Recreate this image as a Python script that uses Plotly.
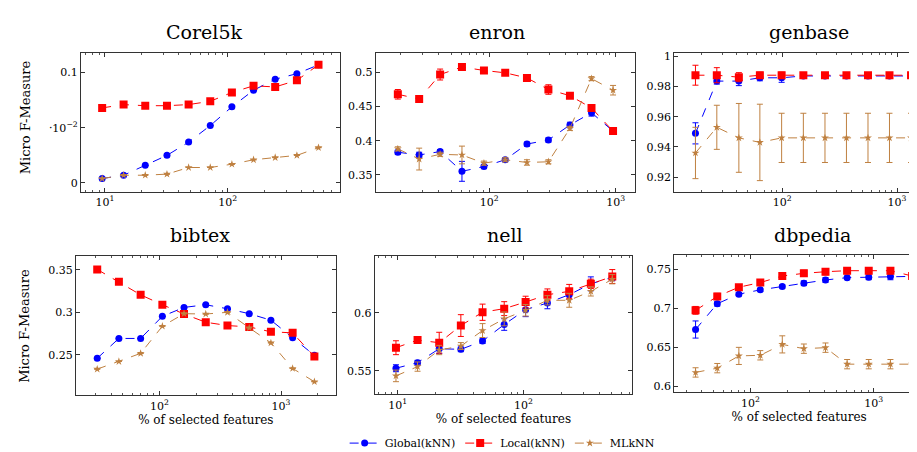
import math
import plotly.graph_objects as go

# dados (valores aproximados)
series_names = ["Global(kNN)", "Local(kNN)", "MLkNN"]
titles = ["Corel5k", "enron", "genbase", "bibtex", "nell", "dbpedia"]

# Corel5k
x_corel = [9.5, 14.2, 21.3, 32, 48, 72, 108, 162, 243, 365, 547]
global_corel = [0.004, 0.007, 0.016, 0.025, 0.037, 0.052, 0.069, 0.084, 0.094, 0.099, 0.107]
local_corel = [0.068, 0.071, 0.070, 0.070, 0.071, 0.074, 0.082, 0.088, 0.087, 0.093, 0.107]
mlknn_corel = [0.004, 0.007, 0.007, 0.008, 0.014, 0.014, 0.017, 0.021, 0.023, 0.025, 0.032]

# enron
x_enron = [19, 28, 41, 61, 91, 134, 199, 294, 435, 644, 953]
global_enron = [0.383, 0.379, 0.384, 0.355, 0.362, 0.372, 0.395, 0.401, 0.423, 0.441, 0.414]
local_enron = [0.468, 0.461, 0.497, 0.508, 0.503, 0.4995, 0.492, 0.475, 0.466, 0.448, 0.414]
mlknn_enron = [0.388, 0.373, 0.380, 0.379, 0.367, 0.372, 0.368, 0.369, 0.418, 0.491, 0.474]
err_global_enron = [0.003, 0.004, 0.003, 0.0146, 0.003, 0.003, 0.003, 0.003, 0.004, 0.005, 0.003]
err_local_enron = [0.007, 0.003, 0.008, 0.003, 0.003, 0.003, 0.005, 0.007, 0.003, 0.003, 0.003]
err_mlknn_enron = [0.003, 0.016, 0.003, 0.013, 0.003, 0.003, 0.004, 0.003, 0.003, 0.003, 0.007]

# genbase
x_genbase = [17.6, 27, 42, 64, 99, 153, 236, 363, 559, 860, 1325]
global_genbase = [0.949, 0.9836, 0.9836, 0.9858, 0.9858, 0.987, 0.987, 0.987, 0.987, 0.987, 0.987]
local_genbase = [0.9875, 0.9875, 0.9862, 0.9875, 0.9875, 0.9875, 0.9875, 0.9875, 0.9875, 0.9875, 0.9875]
mlknn_genbase = [0.936, 0.953, 0.946, 0.943, 0.946, 0.946, 0.946, 0.946, 0.946, 0.946, 0.946]
err_global_genbase = [0.007, 0.002, 0.003, 0.002, 0.003, 0.001, 0.001, 0.001, 0.001, 0.001, 0.001]
err_local_genbase = [0.0066, 0.005, 0.003, 0.002, 0.002, 0.0013, 0.0013, 0.0013, 0.0013, 0.0013, 0.0013]
err_mlknn_genbase = [0.017, 0.0146, 0.0228, 0.0253, 0.0163, 0.0163, 0.0163, 0.0163, 0.0163, 0.0163, 0.0163]

# bibtex
x_bibtex = [30.7, 46.3, 69.9, 105.5, 159, 240, 362, 547, 825, 1245, 1880]
global_bibtex = [0.2458, 0.2692, 0.2692, 0.2953, 0.3058, 0.3089, 0.3042, 0.2984, 0.2907, 0.27, 0.2493]
local_bibtex = [0.3506, 0.336, 0.3206, 0.309, 0.298, 0.2883, 0.2844, 0.2828, 0.277, 0.2758, 0.2478]
mlknn_bibtex = [0.233, 0.242, 0.2516, 0.2836, 0.2984, 0.298, 0.300, 0.2817, 0.264, 0.2338, 0.2182]

# nell
x_nell = [9.7, 14.4, 21.4, 31.8, 47.3, 70.3, 104, 155, 231, 343, 508]
global_nell = [0.5523, 0.5571, 0.5691, 0.5686, 0.5757, 0.590, 0.6028, 0.6086, 0.6157, 0.6251, 0.6308]
local_nell = [0.570, 0.5766, 0.5743, 0.5891, 0.6006, 0.6037, 0.6094, 0.6157, 0.6186, 0.6251, 0.6314]
mlknn_nell = [0.5457, 0.5537, 0.568, 0.5714, 0.5848, 0.5949, 0.6023, 0.6109, 0.6109, 0.6186, 0.6291]
err_global_nell = [0.003, 0.002, 0.004, 0.002, 0.002, 0.005, 0.006, 0.005, 0.004, 0.006, 0.003]
err_local_nell = [0.006, 0.002, 0.009, 0.0094, 0.007, 0.006, 0.005, 0.005, 0.006, 0.004, 0.006]
err_mlknn_nell = [0.005, 0.004, 0.004, 0.003, 0.006, 0.006, 0.005, 0.004, 0.006, 0.004, 0.004]

# dbpedia
x_dbpedia = [35.8, 53.7, 80.4, 120, 181, 271, 406, 608, 911, 1366, 2050]
global_dbpedia = [0.6728, 0.7059, 0.7182, 0.7237, 0.728, 0.7322, 0.7364, 0.7394, 0.7398, 0.7407, 0.741]
local_dbpedia = [0.6974, 0.7153, 0.7271, 0.7331, 0.7415, 0.7449, 0.747, 0.7483, 0.7483, 0.7483, 0.7415]
mlknn_dbpedia = [0.6177, 0.6232, 0.6389, 0.6397, 0.6537, 0.6482, 0.6495, 0.6283, 0.6283, 0.6283, 0.6283]
err_global_dbpedia = [0.011, 0.003, 0.002, 0.002, 0.002, 0.003, 0.003, 0.002, 0.003, 0.004, 0.002]
err_local_dbpedia = [0.005, 0.004, 0.003, 0.003, 0.003, 0.004, 0.004, 0.004, 0.004, 0.004, 0.003]
err_mlknn_dbpedia = [0.006, 0.006, 0.011, 0.006, 0.011, 0.006, 0.006, 0.006, 0.006, 0.006, 0.006]

zeros = [0] * 11

paineis = [
    (x_corel, [global_corel, local_corel, mlknn_corel], [zeros, zeros, zeros]),
    (x_enron, [global_enron, local_enron, mlknn_enron], [err_global_enron, err_local_enron, err_mlknn_enron]),
    (x_genbase, [global_genbase, local_genbase, mlknn_genbase], [err_global_genbase, err_local_genbase, err_mlknn_genbase]),
    (x_bibtex, [global_bibtex, local_bibtex, mlknn_bibtex], [zeros, zeros, zeros]),
    (x_nell, [global_nell, local_nell, mlknn_nell], [err_global_nell, err_local_nell, err_mlknn_nell]),
    (x_dbpedia, [global_dbpedia, local_dbpedia, mlknn_dbpedia], [err_global_dbpedia, err_local_dbpedia, err_mlknn_dbpedia]),
]

# ticks
x_tickvals = [[10, 100], [100, 1000], [100, 1000], [100, 1000], [10, 100], [100, 1000]]
x_ticktext = [["10<sup>1</sup>", "10<sup>2</sup>"], ["10<sup>2</sup>", "10<sup>3</sup>"],
              ["10<sup>2</sup>", "10<sup>3</sup>"], ["10<sup>2</sup>", "10<sup>3</sup>"],
              ["10<sup>1</sup>", "10<sup>2</sup>"], ["10<sup>2</sup>", "10<sup>3</sup>"]]
y_tickvals = [[0, 0.05, 0.1], [0.35, 0.4, 0.45, 0.5], [0.92, 0.94, 0.96, 0.98, 1],
              [0.25, 0.3, 0.35], [0.55, 0.6], [0.6, 0.65, 0.7, 0.75]]
y_ticktext = [["0", "·10<sup>−2</sup>", "0.1"], ["0.35", "0.4", "0.45", "0.5"],
              ["0.92", "0.94", "0.96", "0.98", "1"], ["0.25", "0.3", "0.35"],
              ["0.55", "0.6"], ["0.6", "0.65", "0.7", "0.75"]]

W, H = 917, 452
# caixas dos eixos em pixels: (esq, dir, topo, base)
caixas = [(73, 332, 43, 183), (368, 628, 43, 183), (667, 917, 43, 183),
          (68, 328, 248, 388), (367, 625, 248, 387), (667, 917, 247, 385)]
x_ranges = [[0.805, 2.91], [1.103, 3.155], [1.061, 3.235], [1.312, 3.449], [0.817, 2.865], [1.381, 3.408]]
y_ranges = [[-0.008, 0.118], [0.325, 0.529], [0.9103, 1.0024], [0.202, 0.366], [0.5297, 0.6488], [0.592, 0.768]]
title_pos = [(196, 22), (490, 22), (802, 22), (192, 226), (498, 226), (805, 226)]

cores = ["#0000ff", "#ff0000", "#bf8040"]
marcadores = [dict(symbol="circle", size=7), dict(symbol="square", size=8), dict(symbol="star", size=6)]
fonte = "DejaVu Serif, Liberation Serif, serif"

fig = go.Figure()

for i, (xs, ys, errs) in enumerate(paineis):
    n = "" if i == 0 else str(i + 1)
    for j in range(3):
        fig.add_trace(go.Scatter(
            x=xs, y=ys[j], mode="lines+markers", name=series_names[j],
            showlegend=(i == 0), legendgroup=series_names[j],
            line=dict(color=cores[j], width=1, dash="dash"),
            marker=dict(color=cores[j], **marcadores[j]),
            error_y=dict(type="data", array=errs[j], visible=True, color=cores[j], thickness=1, width=3),
            xaxis="x" + n, yaxis="y" + n,
        ))

    esq, dir_, topo, base = caixas[i]
    lo, hi = x_ranges[i]
    minors = [m * 10 ** k for k in range(0, 5) for m in range(2, 10) if lo < math.log10(m * 10 ** k) < hi]
    fig.layout["xaxis" + n] = dict(
        domain=[esq / W, dir_ / W], anchor="y" + n, type="log", range=x_ranges[i],
        tickmode="array", tickvals=x_tickvals[i], ticktext=x_ticktext[i],
        ticks="inside", ticklen=4, tickcolor="#333", showgrid=False, zeroline=False,
        showline=True, linecolor="#333", linewidth=1, mirror="allticks",
        minor=dict(tickmode="array", tickvals=minors, ticks="inside", ticklen=2, tickcolor="#555"),
        tickfont=dict(family=fonte, size=11, color="black"),
        title=dict(text="% of selected features" if i >= 3 else "",
                   font=dict(family=fonte, size=12, color="black"), standoff=2),
    )
    fig.layout["yaxis" + n] = dict(
        domain=[1 - base / H, 1 - topo / H], anchor="x" + n, range=y_ranges[i],
        tickmode="array", tickvals=y_tickvals[i], ticktext=y_ticktext[i],
        ticks="inside", ticklen=4, tickcolor="#333", showgrid=False, zeroline=False,
        showline=True, linecolor="#333", linewidth=1, mirror="allticks",
        tickfont=dict(family=fonte, size=11, color="black"),
    )
    tx, ty = title_pos[i]
    fig.add_annotation(x=tx / W, y=1 - ty / H, xref="paper", yref="paper", text=titles[i],
                       showarrow=False, font=dict(family=fonte, size=19, color="black"),
                       xanchor="center", yanchor="middle")

# rotulos do eixo y (coluna da esquerda)
for yc in [108, 318]:
    fig.add_annotation(x=17 / W, y=1 - yc / H, xref="paper", yref="paper", text="Micro F-Measure",
                       textangle=-90, showarrow=False, font=dict(family=fonte, size=13, color="black"),
                       xanchor="center", yanchor="middle")

fig.update_layout(
    width=W, height=H, margin=dict(l=0, r=0, t=0, b=0),
    plot_bgcolor="white", paper_bgcolor="white",
    legend=dict(orientation="h", x=0.54, y=1 - 436 / H, xanchor="center", yanchor="middle",
                font=dict(family=fonte, size=11, color="black"), itemwidth=30,
                tracegroupgap=0, bgcolor="rgba(0,0,0,0)"),
)

fig.write_html("out.html")
